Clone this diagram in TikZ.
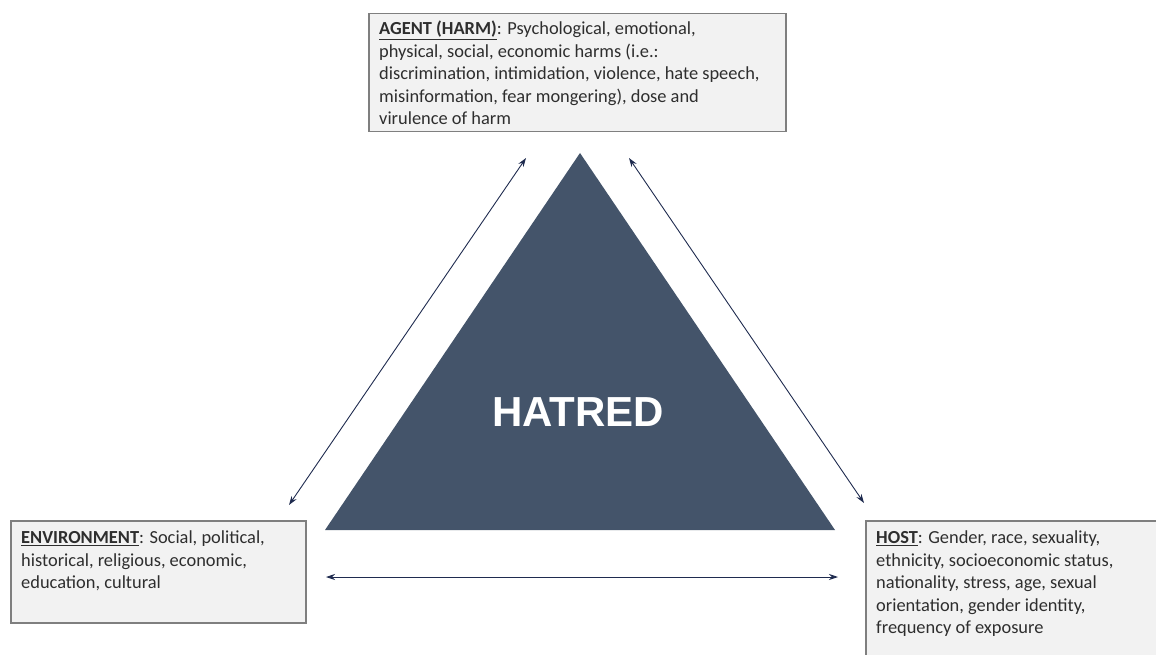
\documentclass[tikz,border=0pt]{standalone}
\usepackage{fontspec}
\setmainfont{Carlito}
\newfontfamily\hatfont{Liberation Sans}
\usetikzlibrary{arrows.meta}
\definecolor{tri}{HTML}{44546A}
\definecolor{boxfill}{HTML}{F2F2F2}
\definecolor{boxline}{HTML}{7F7F7F}
\definecolor{arr}{HTML}{1F2B4F}
\begin{document}
\begin{tikzpicture}[x=1pt,y=-1pt,
  boxframe/.style={draw=boxline, fill=boxfill, line width=1.5pt, anchor=north west, inner sep=0pt},
  infotext/.style={anchor=north west, align=left, inner sep=0pt,
    font=\fontsize{18.4}{22.5}\selectfont, text=black!82},
  link/.style={draw=arr, line width=0.9pt, {Stealth[length=9pt,width=6pt]}-{Stealth[length=9pt,width=6pt]}}]
\useasboundingbox (0,0) rectangle (1156,655);
% triangle
\fill[tri] (580,153) -- (835,530) -- (325,530) -- cycle;
\node[text=white, font=\hatfont\bfseries\fontsize{42}{50}\selectfont] (hat) at (578,412) {HATRED};
% boxes
\node[boxframe, minimum width=417pt, minimum height=118pt] (agentbox) at (368,13) {};
\node[infotext] (agent) at (379,21)
 {\underline{\textbf{AGENT (HARM)}}: Psychological, emotional,\\
  physical, social, economic harms (i.e.:\\
  discrimination, intimidation, violence, hate speech,\\
  misinformation, fear mongering), dose and\\
  virulence of harm};
\node[boxframe, minimum width=295pt, minimum height=102pt] (envbox) at (10,520) {};
\node[infotext] (env) at (21,531)
 {\underline{\textbf{ENVIRONMENT}}: Social, political,\\
  historical, religious, economic,\\
  education, cultural};
\node[boxframe, minimum width=320pt, minimum height=160pt] (hostbox) at (865,520) {};
\node[infotext] (host) at (876,531)
 {\underline{\textbf{HOST}}: Gender, race, sexuality,\\
  ethnicity, socioeconomic status,\\
  nationality, stress, age, sexual\\
  orientation, gender identity,\\
  frequency of exposure};
% arrow ends
\coordinate (a1) at (526,158);
\coordinate (e1) at (289,505);
\coordinate (a2) at (629,158);
\coordinate (h1) at (864,503);
\coordinate (e2) at (326,577);
\coordinate (h2) at (838,577);
\draw[link] (a1) -- (e1);
\draw[link] (a2) -- (h1);
\draw[link] (e2) -- (h2);
\end{tikzpicture}
\end{document}
